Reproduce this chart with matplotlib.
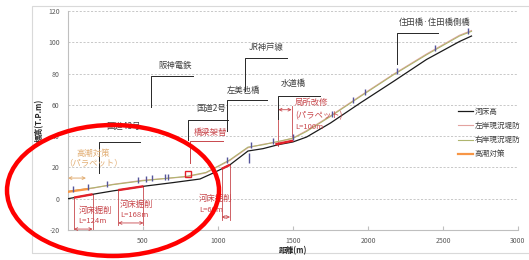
import numpy as np
import matplotlib
matplotlib.use('Agg')
import matplotlib.pyplot as plt
from matplotlib.patches import Ellipse, Rectangle

plt.rcParams['font.family'] = ['Noto Sans CJK JP', 'DejaVu Sans']

# ---------------- data ----------------
dist_bed = [0, 150, 300, 500, 700, 880, 970, 1080, 1200, 1300, 1400, 1500, 1590, 1750, 1950, 2170, 2390, 2610, 2690]
bed = [0, 2.6, 5.0, 7.9, 10.3, 12.6, 16.5, 21.7, 30.5, 32.0, 34.5, 36.3, 39.4, 48.4, 61.3, 75.0, 89.0, 100.5, 104.0]

dist_bank = [0, 170, 300, 500, 790, 920, 1010, 1080, 1200, 1300, 1400, 1500, 1590, 1750, 1950, 2170, 2390, 2610, 2690]
right_bank = [4.7, 7.0, 9.0, 11.5, 14.3, 16.8, 21.3, 24.9, 33.0, 34.5, 36.6, 38.6, 43.0, 52.6, 65.4, 79.2, 92.0, 104.0, 107.0]
left_bank = [4.5, 6.8, 9.2, 11.8, 14.0, 16.5, 21.0, 24.5, 32.6, 34.8, 36.3, 38.8, 43.5, 53.0, 65.8, 79.6, 92.5, 104.5, 107.5]

series_labels = ['河床高', '左岸現況堤防', '右岸現況堤防', '高潮対策']

# river-bed excavation sections (start, end) and their lengths
excav_start = [40, 335, 1024]
excav_end = [164, 503, 1080]
excav_len = ['L=124m', 'L=168m', 'L=60m']

# storm surge (parapet) section and local repair section
surge_start, surge_end = 0, 133
repair_start, repair_end = 1390, 1495

# bridge / structure marks along the levee
mark_x = [31, 135, 262, 469, 518, 558, 647, 669, 1058, 1218, 1367, 1502, 1758, 1902, 1980, 2191, 2447, 2669]
long_mark_x = [1205]
long_mark_y = [26]
replace_box_x = [802]
replace_box_y = [16]

xticks = [500, 1000, 1500, 2000, 2500, 3000]
yticks = [-20, 0, 20, 40, 60, 80, 100, 120]

# crossing structures: name, text position, leader (x_vert, y_top, y_bottom, x_end)
structures = [
    ('阪神電鉄', 713, 85.2, 551, 78.6, 58.8, 831),
    ('JR神戸線', 1320, 96.5, 1180, 89.9, 69.0, 1458),
    ('左美也橋', 1167, 69.3, 1058, 63.3, 43.0, 1327),
    ('国道2号', 953, 57.6, 802, 50.5, 37.7, 1067),
    ('水道橋', 1500, 73.9, 1402, 65.8, 51.0, 1680),
    ('住田橋·住田橋側橋', 2447, 112.7, 2191, 105.9, 86.3, 2469),
    ('国道43号', 367, 46.2, 209, 36.2, 16.4, 480),
]

# ---------------- figure ----------------
W, H = 529, 260
fig = plt.figure(figsize=(W / 100, H / 100), dpi=100)
ax = fig.add_axes([68 / W, 30 / H, 450 / W, 219 / H])
ax.set_xlim(0, 3000)
ax.set_ylim(-20, 120)

# outer chart border
fig.patches.append(Rectangle((32 / W, 1 - 253 / H), 600 / W, 247 / H, transform=fig.transFigure,
                             fill=False, edgecolor='#D9D9D9', lw=0.8))

ax.set_yticks(yticks)
ax.set_xticks(xticks)
ax.set_yticklabels([str(v) for v in yticks])
ax.set_xticklabels([str(v) for v in xticks])
ax.yaxis.grid(True, linestyle=(0, (2.5, 2)), color='#BFBFBF', lw=0.6)
ax.set_axisbelow(True)
for s in ['top', 'right']:
    ax.spines[s].set_visible(False)
for s in ['left', 'bottom']:
    ax.spines[s].set_color('#BFBFBF')
    ax.spines[s].set_linewidth(0.8)
ax.tick_params(axis='x', direction='in', length=3, color='#BFBFBF', labelsize=5, labelcolor='#595959', pad=5)
ax.tick_params(axis='y', length=0, labelsize=5, labelcolor='#595959', pad=6)

fig.text(40 / W, 1 - 120 / H, '標高(T.P.m)', rotation=90, ha='center', va='center', fontsize=5.5,
         fontweight='bold', color='#262626')
fig.text(293 / W, 1 - 251 / H, '距離(m)', ha='center', va='center', fontsize=5.5,
         fontweight='bold', color='#262626')

# ---------------- series ----------------
l_left, = ax.plot(dist_bank, left_bank, color='#E3A3A0', lw=0.8, label=series_labels[1], zorder=3)
l_right, = ax.plot(dist_bank, right_bank, color='#AEB56E', lw=0.8, label=series_labels[2], zorder=3)
l_bed, = ax.plot(dist_bed, bed, color='#1A1A1A', lw=0.9, label=series_labels[0], zorder=3)

# storm surge parapet section
sx = np.linspace(surge_start, surge_end, 10)
l_surge, = ax.plot(sx, np.interp(sx, dist_bank, right_bank) - 0.3, color='#F79646', lw=1.6,
                   label=series_labels[3], zorder=4)

red_dark = '#C8474C'
red_bright = '#E3202A'
tan = '#E2AE74'

# excavation thick segments and brackets
bracket_bottom = [-21, -16.6, -13.4]
arrow_y = [-19.4, -15.5, -11.7]
text_y = [(-7.5, -14.5), (-3.8, -10.7), (0.0, -7.0)]
text_x = [69, 347, 875]
for i in range(3):
    xs = np.linspace(excav_start[i], excav_end[i], 10)
    ys = np.interp(xs, dist_bed, bed)
    ax.plot(xs, ys, color=red_bright, lw=1.7, zorder=5, solid_capstyle='butt')
    for xv in (excav_start[i], excav_end[i]):
        ax.plot([xv, xv], [np.interp(xv, dist_bed, bed), bracket_bottom[i]], color=red_dark, lw=0.6, zorder=2)
    ax.annotate('', xy=(excav_end[i], arrow_y[i]), xytext=(excav_start[i], arrow_y[i]),
                arrowprops=dict(arrowstyle='<->', color=red_dark, lw=0.6, mutation_scale=5,
                                shrinkA=0, shrinkB=0))
    ax.text(text_x[i], text_y[i][0], '河床掘削', fontsize=6, color=red_dark, ha='left', va='center')
    ax.text(text_x[i], text_y[i][1], excav_len[i], fontsize=5.5, color=red_dark, ha='left', va='center')

# local repair (parapet)
rx = np.linspace(repair_start, repair_end, 10)
ax.plot(rx, np.interp(rx, dist_bank, right_bank) - 1.5, color=red_bright, lw=1.7, zorder=5)
ax.plot([1402, 1402], [60, 34], color=red_dark, lw=0.6)
ax.plot([1491, 1491], [59, 38.8], color=red_dark, lw=0.6)
ax.annotate('', xy=(1491, 56.9), xytext=(1402, 56.9),
            arrowprops=dict(arrowstyle='<->', color=red_dark, lw=0.6, mutation_scale=5, shrinkA=0, shrinkB=0))
ax.text(1513, 61.8, '局所改修', fontsize=6, color=red_dark, ha='left', va='center')
ax.text(1513, 53.2, '(パラペット)', fontsize=6, color=red_dark, ha='left', va='center')
ax.text(1513, 45.6, 'L=100m', fontsize=5.5, color=red_dark, ha='left', va='center')

# bridge replacement
ax.plot([813, 813, 1035], [22.7, 36.6, 36.6], color=red_dark, lw=0.7)
ax.text(947, 42.6, '橋梁架替', fontsize=6, color=red_dark, ha='center', va='center')
ax.plot(replace_box_x, replace_box_y, linestyle='none', marker='s', mfc='none', mec=red_bright,
        ms=4, mew=1.0, zorder=6)

# storm surge annotation
ax.text(167, 29.2, '高潮対策', fontsize=6, color=tan, ha='center', va='center')
ax.text(167, 22.8, '（パラペット）', fontsize=6, color=tan, ha='center', va='center')
ax.annotate('', xy=(120, 13.2), xytext=(0, 13.2),
            arrowprops=dict(arrowstyle='<->', color=tan, lw=0.7, mutation_scale=5, shrinkA=0, shrinkB=0))

# structure marks
ax.plot(mark_x, np.interp(mark_x, dist_bank, right_bank) + 1.0, linestyle='none', marker='|',
        ms=4, mew=1.0, color='#55559A', zorder=6)
ax.plot(long_mark_x, long_mark_y, linestyle='none', marker='|', ms=7, mew=1.0, color='#55559A', zorder=6)

# crossing structures leaders
for name, tx, ty, xv, yt, yb, xe in structures:
    ax.plot([xv, xv, xe], [yb, yt, yt], color='#262626', lw=0.7, zorder=2)
    ax.text(tx, ty, name, fontsize=6, color='#404040', ha='center', va='center')

# legend
leg = ax.legend(handles=[l_bed, l_left, l_right, l_surge], loc='upper left',
                bbox_to_anchor=(458 / W, 1 - 108 / H), bbox_transform=fig.transFigure,
                frameon=False, fontsize=5.5, handlelength=2.0, handletextpad=0.2,
                labelspacing=0.8, borderpad=0, borderaxespad=0)
for t in leg.get_texts():
    t.set_color('#404040')

# red highlight ellipse
fig.patches.append(Ellipse((113 / W, 1 - 190.5 / H), 212 / W, 131 / H, transform=fig.transFigure,
                           fill=False, edgecolor='#FF0000', lw=3.2, zorder=10))

fig.savefig('out.png', dpi=100)
